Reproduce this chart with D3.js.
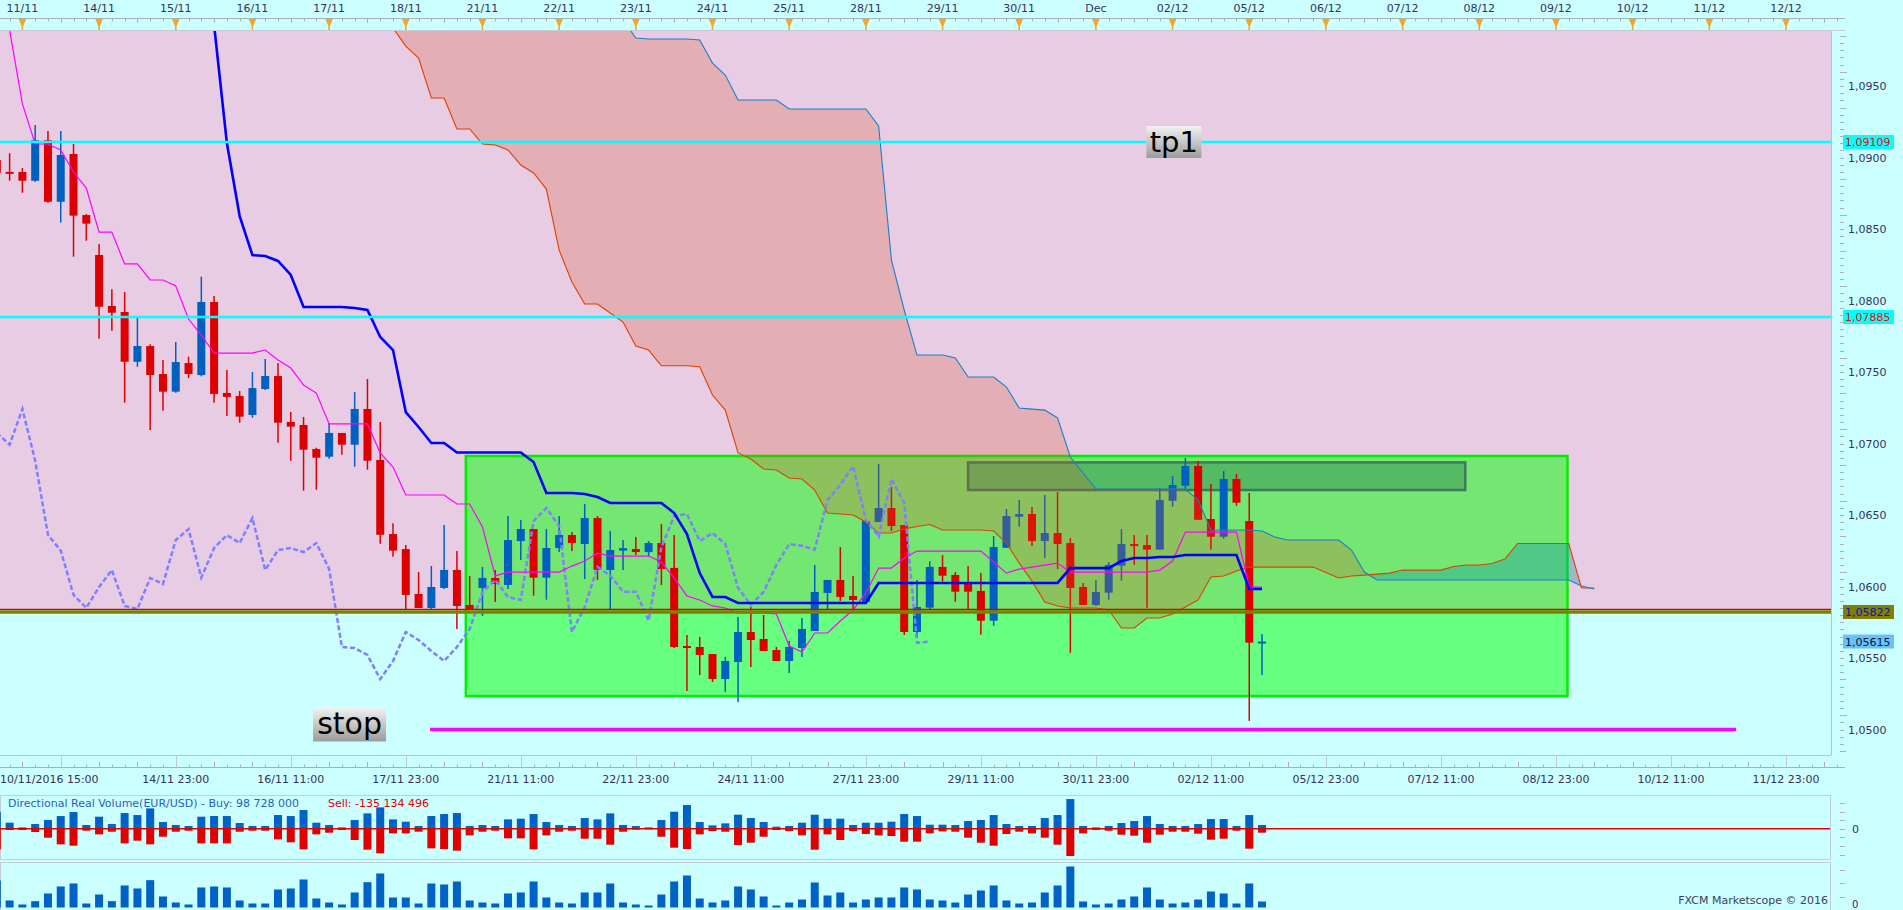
<!DOCTYPE html>
<html><head><meta charset="utf-8">
<script src="https://cdn.jsdelivr.net/npm/d3@7"></script>
<style>
body{margin:0;background:#ccffff;overflow:hidden}
svg{display:block}
text{font-family:"DejaVu Sans",Verdana,sans-serif}
</style>
</head><body>
<svg id="c" width="1903" height="910"></svg>
<script>
// ---------- DATA (candle index k starts at -2; 4-hour EUR/USD candles) ----------
const firstK = -2;
const openP = [1.08983,1.08900,1.08899,1.08838,1.09121,1.08691,1.09025,1.08598,1.08319,1.07962,
1.07920,1.07572,1.07682,1.07486,1.07363,1.07563,1.07479,1.07990,1.07354,1.07333,
1.07200,1.07381,1.07472,1.07151,1.07130,1.06962,1.06908,1.07074,1.06992,1.07242,
1.06885,1.06367,1.06262,1.05948,1.05850,1.05990,1.06116,1.05871,1.05990,1.06060,
1.06011,1.06318,1.06402,1.06062,1.06269,1.06360,1.06297,1.06479,1.06116,1.06251,
1.06262,1.06241,1.06304,1.06130,1.05584,1.05577,1.05528,1.05353,1.05472,1.05682,
1.05633,1.05556,1.05479,1.05570,1.05689,1.05955,1.06046,1.05934,1.05892,1.06451,
1.06549,1.06430,1.05682,1.05852,1.06137,1.06081,1.06031,1.05969,1.05761,1.06271,
1.06488,1.06507,1.06318,1.06374,1.06304,1.05997,1.05871,1.05957,1.06146,1.06297,
1.06290,1.06258,1.06600,1.06705,1.06843,1.06472,1.06348,1.06752,1.06458,1.05608];
const highP = [1.09018,1.09030,1.08927,1.09228,1.09186,1.09186,1.09095,1.08605,1.08396,1.08079,
1.08060,1.07885,1.07694,1.07584,1.07710,1.07607,1.08167,1.08032,1.07514,1.07368,
1.07500,1.07591,1.07563,1.07221,1.07186,1.06971,1.07142,1.07074,1.07360,1.07451,
1.07151,1.06442,1.06290,1.06102,1.06144,1.06430,1.06248,1.06074,1.06137,1.06116,
1.06493,1.06465,1.06402,1.06402,1.06493,1.06381,1.06577,1.06493,1.06388,1.06325,
1.06346,1.06318,1.06437,1.06360,1.05661,1.05647,1.05528,1.05507,1.05787,1.05857,
1.05801,1.05577,1.05619,1.05780,1.06151,1.06046,1.06276,1.06074,1.06465,1.06857,
1.06696,1.06430,1.06046,1.06176,1.06220,1.06102,1.06144,1.06095,1.06353,1.06542,
1.06605,1.06556,1.06640,1.06661,1.06339,1.06025,1.06046,1.06172,1.06402,1.06360,
1.06360,1.06689,1.06773,1.06899,1.06878,1.06717,1.06808,1.06787,1.06654,1.05668];
const lowP = [1.08878,1.08838,1.08754,1.08831,1.08684,1.08545,1.08307,1.08419,1.07733,1.07789,
1.07286,1.07537,1.07095,1.07230,1.07356,1.07458,1.07470,1.07286,1.07193,1.07146,
1.07181,1.07374,1.07006,1.06880,1.06670,1.06677,1.06894,1.06922,1.06838,1.06817,
1.06300,1.06209,1.05841,1.05850,1.05843,1.05983,1.05703,1.05843,1.05794,1.05892,
1.05983,1.06186,1.05936,1.05908,1.06241,1.06248,1.06053,1.06046,1.05843,1.06116,
1.06220,1.06213,1.06011,1.05570,1.05269,1.05381,1.05332,1.05262,1.05192,1.05437,
1.05549,1.05479,1.05395,1.05507,1.05689,1.05843,1.05899,1.05836,1.05885,1.06451,
1.06388,1.05661,1.05647,1.05841,1.06034,1.05894,1.05841,1.05663,1.05726,1.06271,
1.06418,1.06283,1.06200,1.06123,1.05537,1.05871,1.05864,1.05908,1.06041,1.06153,
1.05852,1.06258,1.06558,1.06670,1.06467,1.06258,1.06334,1.06565,1.05060,1.05381];
const closeP = [1.08894,1.08897,1.08838,1.09121,1.08691,1.09018,1.08594,1.08538,1.07957,1.07915,
1.07572,1.07682,1.07479,1.07363,1.07570,1.07486,1.07990,1.07347,1.07326,1.07188,
1.07388,1.07472,1.07146,1.07118,1.06957,1.06901,1.07074,1.06992,1.07242,1.06880,
1.06362,1.06251,1.05941,1.05850,1.05997,1.06116,1.05864,1.05843,1.06060,1.06018,
1.06325,1.06402,1.06062,1.06269,1.06360,1.06304,1.06479,1.06116,1.06255,1.06269,
1.06241,1.06304,1.06123,1.05577,1.05570,1.05521,1.05353,1.05479,1.05682,1.05626,
1.05549,1.05479,1.05577,1.05703,1.05962,1.06046,1.05927,1.05906,1.06458,1.06549,
1.06423,1.05682,1.05857,1.06137,1.06076,1.05964,1.05964,1.05761,1.06276,1.06493,
1.06507,1.06318,1.06374,1.06297,1.05990,1.05871,1.05962,1.06151,1.06297,1.06285,
1.06258,1.06605,1.06710,1.06843,1.06467,1.06348,1.06752,1.06586,1.05607,1.05615];
// Tenkan-sen (conversion line), k = -2..97
const tenkan = [1.10172,1.09892,1.09375,1.09095,1.09095,1.09053,1.08899,1.08787,1.08479,1.08479,
1.08256,1.08256,1.08144,1.08144,1.08102,1.07871,1.07759,1.07633,1.07633,1.07633,
1.07633,1.07654,1.07584,1.07528,1.07409,1.07353,1.07137,1.07137,1.07137,1.07137,
1.06934,1.06836,1.06640,1.06640,1.06640,1.06640,1.06577,1.06577,1.06416,1.06074,
1.06101,1.06101,1.06101,1.06101,1.06101,1.06143,1.06178,1.06234,1.06213,1.06213,
1.06213,1.06213,1.06171,1.06060,1.05934,1.05906,1.05864,1.05850,1.05815,1.05815,
1.05815,1.05808,1.05584,1.05542,1.05675,1.05675,1.05759,1.05836,1.05955,1.06129,
1.06129,1.06199,1.06248,1.06248,1.06248,1.06248,1.06248,1.06248,1.06171,1.06094,
1.06122,1.06136,1.06150,1.06164,1.06101,1.06101,1.06101,1.06101,1.06101,1.06101,
1.06101,1.06115,1.06178,1.06381,1.06381,1.06381,1.06381,1.06381,1.05996,1.05996];
// Kijun-sen (base line), k = -2..97
const kijun = [null,null,null,null,null,null,null,null,null,null,
null,null,null,null,null,null,1.10207,1.09927,1.09102,1.08591,
1.08318,1.08312,1.08277,1.08179,1.07955,1.07955,1.07955,1.07955,1.07948,1.07934,
1.07745,1.07654,1.07220,1.07116,1.07004,1.07004,1.06937,1.06937,1.06937,1.06937,
1.06937,1.06937,1.06871,1.06654,1.06654,1.06654,1.06647,1.06626,1.06584,1.06584,
1.06584,1.06584,1.06584,1.06514,1.06367,1.06094,1.05927,1.05927,1.05885,1.05885,
1.05885,1.05885,1.05885,1.05885,1.05885,1.05885,1.05885,1.05885,1.05885,1.06025,
1.06025,1.06025,1.06025,1.06025,1.06025,1.06025,1.06025,1.06025,1.06025,1.06025,
1.06025,1.06025,1.06025,1.06025,1.06129,1.06129,1.06129,1.06129,1.06178,1.06199,
1.06199,1.06206,1.06206,1.06220,1.06220,1.06220,1.06220,1.06220,1.05983,1.05983];
// Senkou span A, k = 28..123
const spanAStart = 28;
const spanA = [1.10032,1.09906,1.09780,1.09696,1.09417,1.09417,1.09200,1.09200,1.09095,1.09088,
1.09053,1.08948,1.08892,1.08780,1.08353,1.08130,1.07976,1.07976,1.07913,1.07850,
1.07682,1.07654,1.07544,1.07544,1.07544,1.07537,1.07339,1.07234,1.06934,1.06892,
1.06822,1.06815,1.06759,1.06752,1.06675,1.06514,1.06507,1.06500,1.06451,1.06374,
1.06374,1.06402,1.06420,1.06434,1.06395,1.06395,1.06395,1.06395,1.06388,1.06304,
1.06164,1.06038,1.05892,1.05864,1.05850,1.05850,1.05850,1.05836,1.05710,1.05710,
1.05780,1.05780,1.05808,1.05857,1.05906,1.06067,1.06074,1.06108,1.06136,1.06136,
1.06136,1.06136,1.06136,1.06136,1.06098,1.06060,1.06074,1.06080,1.06087,1.06094,
1.06115,1.06115,1.06115,1.06115,1.06140,1.06150,1.06150,1.06161,1.06192,1.06301,
1.06301,1.06301,1.06301,1.06301,1.05990,1.05990];
// Senkou span B, k = 46..123
const spanBStart = 46;
const spanB = [1.10172,1.09962,1.09836,1.09829,1.09829,1.09829,1.09829,1.09822,1.09661,1.09577,
1.09403,1.09403,1.09403,1.09403,1.09340,1.09340,1.09340,1.09340,1.09340,1.09340,
1.09340,1.09221,1.08284,1.07934,1.07619,1.07619,1.07619,1.07598,1.07465,1.07465,
1.07465,1.07395,1.07248,1.07241,1.07234,1.07179,1.06906,1.06794,1.06682,1.06682,
1.06682,1.06682,1.06682,1.06682,1.06682,1.06682,1.06605,1.06395,1.06395,1.06395,
1.06395,1.06388,1.06346,1.06325,1.06325,1.06325,1.06325,1.06325,1.06255,1.06101,
1.06046,1.06046,1.06046,1.06046,1.06046,1.06046,1.06046,1.06046,1.06046,1.06046,
1.06046,1.06046,1.06046,1.06046,1.06046,1.06046,1.06004,1.05983];
const chikouShift = 26;
// Directional real volume (buy up / sell down) and total volume, k = -2..97
const buyVol = [51,18,4,14,26,38,50,11,36,14,47,41,61,20,11,8,36,38,38,17,
8,8,41,38,56,18,11,4,26,46,64,28,21,8,38,44,47,8,11,8,
28,30,44,20,11,8,32,28,46,11,8,4,26,51,71,20,10,16,42,32,
20,6,8,18,42,30,30,11,18,18,21,44,38,12,12,11,23,26,41,14,
8,8,32,41,89,8,4,8,17,23,38,14,8,8,14,29,29,8,41,11];
const sellVol = [62,4,4,10,27,47,51,6,17,9,44,36,47,24,9,6,44,44,44,9,
6,6,32,41,62,17,12,4,34,63,74,14,14,9,59,61,66,20,9,6,
29,29,62,20,9,6,30,30,48,9,3,2,24,57,61,17,7,9,49,42,
24,4,7,20,63,17,34,7,16,20,22,39,39,14,8,9,27,42,51,16,
9,14,27,48,82,14,4,6,18,21,42,18,9,9,15,33,30,6,60,12];
const totalVol = [81,21,9,19,42,63,72,12,39,19,66,57,82,33,15,9,60,63,60,21,
12,12,54,57,84,27,15,9,45,76,102,30,30,12,72,69,78,21,15,12,
42,45,78,30,15,12,45,45,72,15,9,6,39,78,96,27,15,21,63,54,
33,6,15,24,75,36,45,15,24,30,30,60,54,24,21,15,39,51,66,21,
12,15,45,66,123,18,9,12,24,33,60,24,12,15,24,48,42,12,72,18];
// Axis labels
const dayLabels = ["11/11","14/11","15/11","16/11","17/11","18/11","21/11","22/11","23/11","24/11","25/11","28/11",
"29/11","30/11","Dec","02/12","05/12","06/12","07/12","08/12","09/12","10/12","11/12","12/12"];
const timeLabels = ["10/11/2016 15:00","14/11 23:00","16/11 11:00","17/11 23:00","21/11 11:00","22/11 23:00",
"24/11 11:00","27/11 23:00","29/11 11:00","30/11 23:00","02/12 11:00","05/12 23:00","07/12 11:00",
"08/12 23:00","10/12 11:00","11/12 23:00"];
const candlesPerDay = 6, candlesPerTimeLabel = 9, firstTimeLabelK = 3;
// Levels and drawn objects
const tpLevels = [1.09109, 1.07885];
const entryLevel = 1.05822;
const lastPrice = 1.05615;
const stopLevel = 1.0500, stopFromK = 31.9, stopToK = 134.1;
const tradeBox = {k0:34.7, k1:120.9, top:1.06913, bottom:1.05234};
const zoneBox = {k0:74.0, k1:112.9, top:1.06868, bottom:1.06675};
const tpLabel = {text:"tp1", k:90.1, price:1.09109};
const stopLabel = {text:"stop", k:25.6, price:1.05035};

// ---------- DRAWING ----------
const svg = d3.select("#c");
const P = {left:0, right:1831, top:30, bottom:755};
const x = d3.scaleLinear().domain([0, 138]).range([22.4, 1786]);
const y = d3.scaleLinear().domain([1.0500, 1.09109]).range([729.5, 142]);
const defs = svg.append("defs");
defs.append("clipPath").attr("id","plotClip").append("rect")
  .attr("x",P.left).attr("y",P.top).attr("width",P.right-P.left).attr("height",P.bottom-P.top);
const grad = defs.append("linearGradient").attr("id","lblGrad").attr("x1",0).attr("x2",0).attr("y1",0).attr("y2",1);
grad.append("stop").attr("offset","0%").attr("stop-color","#f2f2f2");
grad.append("stop").attr("offset","100%").attr("stop-color","#9c9c9c");

const candles = openP.map((o,i)=>({k:i+firstK,o,h:highP[i],l:lowP[i],c:closeP[i]}));

// background zones
const g = svg.append("g").attr("clip-path","url(#plotClip)");
g.append("rect").attr("x",P.left).attr("y",P.top).attr("width",P.right-P.left).attr("height",P.bottom-P.top).attr("fill","#ccffff");
g.append("rect").attr("x",P.left).attr("y",P.top).attr("width",P.right-P.left).attr("height",y(entryLevel)-3-P.top).attr("fill","#e8cce4");

// trade box
g.append("rect").attr("x",x(tradeBox.k0)).attr("y",y(tradeBox.top))
  .attr("width",x(tradeBox.k1)-x(tradeBox.k0)).attr("height",y(tradeBox.bottom)-y(tradeBox.top))
  .attr("fill","rgba(0,255,0,0.5)").attr("stroke","#00ee00").attr("stroke-width",2.5);
// zone box
g.append("rect").attr("x",x(zoneBox.k0)).attr("y",y(zoneBox.top))
  .attr("width",x(zoneBox.k1)-x(zoneBox.k0)).attr("height",y(zoneBox.bottom)-y(zoneBox.top))
  .attr("fill","rgba(20,100,70,0.33)").attr("stroke","#3d7a5c").attr("stroke-width",2.5);

// candles
const upC = "#0060c0", dnC = "#dd0000";
const cg = g.append("g");
cg.selectAll("line").data(candles).join("line")
  .attr("x1",d=>x(d.k)).attr("x2",d=>x(d.k)).attr("y1",d=>y(d.h)).attr("y2",d=>y(d.l))
  .attr("stroke",d=>d.c>=d.o?upC:dnC).attr("stroke-width",1.5);
cg.selectAll("rect").data(candles).join("rect")
  .attr("x",d=>x(d.k)-4).attr("width",8)
  .attr("y",d=>y(Math.max(d.o,d.c))).attr("height",d=>Math.max(2,Math.abs(y(d.o)-y(d.c))))
  .attr("fill",d=>d.c>=d.o?upC:dnC);

// cloud
const cloud = [];
for(let i=0;i<spanA.length;i++){
  const k=spanAStart+i, bi=k-spanBStart;
  cloud.push({k, a:spanA[i], b: bi>=0? spanB[bi] : null});
}
const yA = d=>y(d.a), yB = d=>d.b==null? P.top-20 : y(d.b);
defs.append("clipPath").attr("id","aboveA").append("path")
  .attr("d", d3.area().x(d=>x(d.k)).y0(P.top-30).y1(yA)(cloud));
defs.append("clipPath").attr("id","belowA").append("path")
  .attr("d", d3.area().x(d=>x(d.k)).y0(yA).y1(P.bottom+30)(cloud));
const cloudArea = d3.area().x(d=>x(d.k)).y0(yA).y1(yB);
g.append("g").attr("clip-path","url(#aboveA)").append("path").attr("d",cloudArea(cloud))
  .attr("fill","rgba(212,84,36,0.25)");
g.append("g").attr("clip-path","url(#belowA)").append("path").attr("d",cloudArea(cloud))
  .attr("fill","rgba(20,150,170,0.36)");

// ichimoku lines
const line = d3.line().defined(d=>d.v!=null).x(d=>x(d.k)).y(d=>y(d.v));
g.append("path").attr("d",line(spanA.map((v,i)=>({k:spanAStart+i,v})))).attr("fill","none").attr("stroke","#e04000").attr("stroke-width",1.1);
g.append("path").attr("d",line(spanB.map((v,i)=>({k:spanBStart+i,v})))).attr("fill","none").attr("stroke","#1a80c8").attr("stroke-width",1.1);
g.append("path").attr("d",line(closeP.map((v,i)=>({k:i+firstK-chikouShift,v})).filter(d=>d.k>=firstK)))
  .attr("fill","none").attr("stroke","#8080ff").attr("stroke-width",2.5).attr("stroke-dasharray","5,2.5");
g.append("path").attr("d",line(tenkan.map((v,i)=>({k:i+firstK,v})))).attr("fill","none").attr("stroke","#ff00ff").attr("stroke-width",1.2);
g.append("path").attr("d",line(kijun.map((v,i)=>({k:i+firstK,v})))).attr("fill","none").attr("stroke","#0000ff").attr("stroke-width",2.6);

// horizontal levels
tpLevels.forEach(p=>{
  g.append("line").attr("x1",P.left).attr("x2",P.right).attr("y1",y(p)).attr("y2",y(p)).attr("stroke","#00ffff").attr("stroke-width",2.5);
});
g.append("line").attr("x1",P.left).attr("x2",P.right).attr("y1",y(entryLevel)-2.5).attr("y2",y(entryLevel)-2.5).attr("stroke","#e00000").attr("stroke-width",1.2);
g.append("line").attr("x1",P.left).attr("x2",P.right).attr("y1",y(entryLevel)).attr("y2",y(entryLevel)).attr("stroke","#808000").attr("stroke-width",3.5);
g.append("line").attr("x1",x(stopFromK)).attr("x2",x(stopToK)).attr("y1",y(stopLevel)).attr("y2",y(stopLevel)).attr("stroke","#ff00ff").attr("stroke-width",3.5);

// text labels tp1 / stop
function boxLabel(lbl, w, h, fs){
  const cx=x(lbl.k), cy=y(lbl.price);
  g.append("rect").attr("x",cx-w/2).attr("y",cy-h/2).attr("width",w).attr("height",h).attr("fill","url(#lblGrad)");
  g.append("text").attr("x",cx).attr("y",cy+fs*0.33).attr("text-anchor","middle")
    .attr("font-family","'Liberation Sans',Arial,sans-serif").attr("font-size",fs).attr("fill","#000").text(lbl.text);
}
boxLabel(tpLabel,55,32,29);
boxLabel(stopLabel,73,34,30);

// plot borders
svg.append("line").attr("x1",P.right+0.5).attr("x2",P.right+0.5).attr("y1",P.top).attr("y2",P.bottom).attr("stroke","#b8c0c8");
svg.append("line").attr("x1",0).attr("x2",P.right).attr("y1",P.bottom+0.5).attr("y2",P.bottom+0.5).attr("stroke","#b8c0c8");
svg.append("line").attr("x1",0).attr("x2",1845).attr("y1",P.top+0.5).attr("y2",P.top+0.5).attr("stroke","#c4ccd4");

// ---------- top date axis ----------
const axCol = "#33335a";
const topAx = svg.append("g");
topAx.append("line").attr("x1",0).attr("x2",1845).attr("y1",18.5).attr("y2",18.5).attr("stroke","#a8b0b8");
d3.range(-1,143).forEach(k=>{
  const xx=Math.round(x(k))+0.5;
  if(xx<0||xx>1845) return;
  topAx.append("line").attr("x1",xx).attr("x2",xx).attr("y1",18.5).attr("y2",k%3===0?23:21.5).attr("stroke","#a8b0b8");
});
dayLabels.forEach((t,d)=>{
  const xx=x(d*candlesPerDay);
  topAx.append("text").attr("x",xx).attr("y",12).attr("text-anchor","middle").attr("font-size",11).attr("fill",axCol).text(t);
  topAx.append("path").attr("d",`M${xx-3.8},19 L${xx+3.8},19 L${xx+0.8},26 L${xx+0.8},30 L${xx-0.8},30 L${xx-0.8},26 Z`).attr("fill","#f5a623");
});

// ---------- bottom time axis ----------
const botAx = svg.append("g");
botAx.append("line").attr("x1",0).attr("x2",1845).attr("y1",767.5).attr("y2",767.5).attr("stroke","#a8b0b8");
d3.range(-1,143).forEach(k=>{
  const xx=Math.round(x(k))+0.5;
  if(xx<0||xx>1845) return;
  const isGrid = (k-firstTimeLabelK)%candlesPerTimeLabel===0;
  botAx.append("line").attr("x1",xx).attr("x2",xx).attr("y1",isGrid?755:(k%3===0?762:764.5)).attr("y2",767.5)
    .attr("stroke",isGrid?"#c0c8d0":"#a8b0b8");
});
timeLabels.forEach((t,j)=>{
  const xx=x(firstTimeLabelK+j*candlesPerTimeLabel);
  botAx.append("text").attr("x",j===0?0:xx).attr("y",783).attr("text-anchor",j===0?"start":"middle")
    .attr("font-size",11).attr("fill",axCol).text(t);
});

// ---------- right price axis ----------
const ra = svg.append("g");
const fmt = p=>d3.format(".4f")(p).replace(".",",");
const fmt5 = p=>d3.format(".5f")(p).replace(".",",");
d3.range(0,110).forEach(i=>{
  const p=1.0460+i*0.0005; const yy=Math.round(y(p))+0.5;
  if(yy<P.top||yy>P.bottom) return;
  const major = i%10===0, mid=i%5===0;
  ra.append("line").attr("x1",1840).attr("x2",1840+(major?7:mid?6:4)).attr("y1",yy).attr("y2",yy).attr("stroke","#a8b0b8");
});
d3.range(0,10).forEach(i=>{
  const p=1.0500+i*0.005;
  ra.append("text").attr("x",1848).attr("y",y(p)+4).attr("font-size",11).attr("fill",axCol).text(fmt(p));
});
function priceTag(p,bg,fg){
  ra.append("rect").attr("x",1843).attr("y",y(p)-7).attr("width",51).attr("height",14).attr("fill",bg);
  ra.append("text").attr("x",1845).attr("y",y(p)+4).attr("font-size",11).attr("fill",fg).text(fmt5(p));
}
tpLevels.forEach(p=>priceTag(p,"#00ffff","#ff0000"));
priceTag(entryLevel,"#808000","#1010c0");
priceTag(lastPrice,"#66c4f4","#101050");

// ---------- volume panels ----------
const vp = svg.append("g");
const vy1 = d3.scaleLinear().domain([-100,100]).range([862.0,795.4]);
const vy2 = d3.scaleLinear().domain([0,140]).range([907.5,860.8]);
vp.append("rect").attr("x",0.5).attr("y",795.5).attr("width",1830).attr("height",64).attr("fill","none").attr("stroke","#c4ccd4");
vp.append("rect").attr("x",0.5).attr("y",862.5).attr("width",1830).attr("height",50).attr("fill","none").attr("stroke","#c4ccd4");
defs.append("clipPath").attr("id","v1").append("rect").attr("x",0).attr("y",796).attr("width",1830).attr("height",63);
defs.append("clipPath").attr("id","v2").append("rect").attr("x",0).attr("y",863).attr("width",1830).attr("height",47);
const v1 = vp.append("g").attr("clip-path","url(#v1)");
const v2 = vp.append("g").attr("clip-path","url(#v2)");
const vdata = buyVol.map((b,i)=>({k:i+firstK,b,s:sellVol[i],t:totalVol[i]}));
v1.selectAll(".b").data(vdata).join("rect").attr("class","b").attr("x",d=>x(d.k)-4).attr("width",8)
  .attr("y",d=>vy1(d.b)).attr("height",d=>vy1(0)-vy1(d.b)).attr("fill","#0062c4");
v1.selectAll(".s").data(vdata).join("rect").attr("class","s").attr("x",d=>x(d.k)-4).attr("width",8)
  .attr("y",vy1(0)).attr("height",d=>vy1(-d.s)-vy1(0)).attr("fill","#e00000");
v1.append("line").attr("x1",0).attr("x2",1830).attr("y1",vy1(0)).attr("y2",vy1(0)).attr("stroke","#e00000").attr("stroke-width",1.5);
v2.selectAll("rect").data(vdata).join("rect").attr("x",d=>x(d.k)-4).attr("width",8)
  .attr("y",d=>vy2(d.t)).attr("height",d=>vy2(0)-vy2(d.t)).attr("fill","#0062c4");
[802.7,811.7,820,828.7,837.3,846,854.7].forEach(yy=>vp.append("line").attr("x1",1840).attr("x2",1845).attr("y1",Math.round(yy)+0.5).attr("y2",Math.round(yy)+0.5).attr("stroke","#a8b0b8"));
[870,883,896.7].forEach(yy=>vp.append("line").attr("x1",1840).attr("x2",1845).attr("y1",Math.round(yy)+0.5).attr("y2",Math.round(yy)+0.5).attr("stroke","#a8b0b8"));
vp.append("text").attr("x",1852).attr("y",vy1(0)+4).attr("font-size",11).attr("fill",axCol).text("0");
vp.append("text").attr("x",1852).attr("y",908).attr("font-size",10).attr("fill",axCol).text("0");
vp.append("text").attr("x",8).attr("y",807).attr("font-size",11).attr("fill","#1f5fbf").text("Directional Real Volume(EUR/USD) -  Buy: 98 728 000");
vp.append("text").attr("x",328).attr("y",807).attr("font-size",11).attr("fill","#e00000").text("Sell: -135 134 496");
vp.append("text").attr("x",1828).attr("y",904).attr("text-anchor","end").attr("font-size",11).attr("fill","#404060").text("FXCM Marketscope © 2016");
</script>
</body></html>
